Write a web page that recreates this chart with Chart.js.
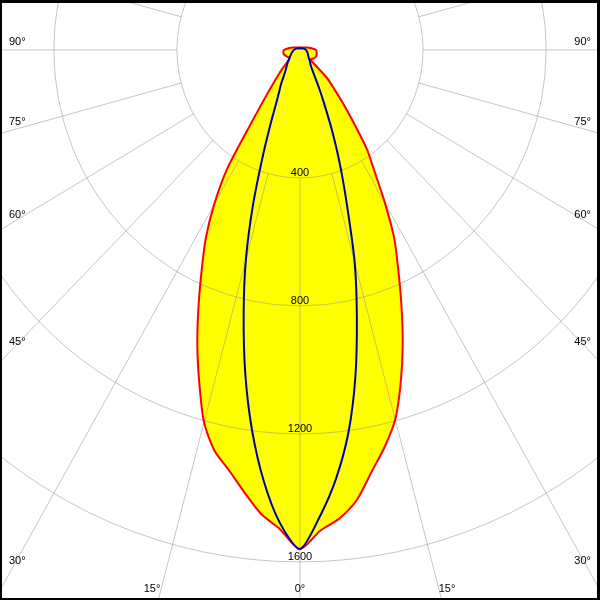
<!DOCTYPE html>
<html>
<head>
<meta charset="utf-8">
<title>Polar intensity diagram</title>
<script src="https://cdn.jsdelivr.net/npm/chart.js@4.4.1/dist/chart.umd.min.js"></script>
<style>
    body { margin: 0; background: #fff; }
    #wrap { position: relative; width: 600px; height: 600px; }
    #frame {
        position: absolute; left: 0; top: 0; width: 600px; height: 600px;
        box-sizing: border-box; border: solid #000;
        border-width: 3px 3px 2px 2px; pointer-events: none;
    }
</style>
</head>
<body>
<div id="wrap">
    <canvas id="polar" width="600" height="600"></canvas>
    <div id="frame"></div>
</div>
<script>
// Gamma angles (0 = straight down), degrees
const angles = [0, 2.5, 5, 7.5, 10, 12.5, 15, 17.5, 20, 22.5, 25, 27.5, 30, 32.5, 35, 37.5, 40, 42.5, 45, 47.5, 50,
    55, 60, 65, 70, 75, 80, 85, 90, 100, 110, 120, 130, 140, 150, 160, 170, 180];

// Luminous intensity, cd - C0/C180 plane (red), left and right half
const redLeft = [1560, 1499, 1455, 1393, 1333, 1283, 1205, 1089, 976, 861, 755, 663, 558, 440, 265, 180, 130, 100, 75, 55, 45,
    43, 45, 48, 51, 54, 55, 54, 52, 35, 22, 15, 12, 10, 9, 8, 8, 8];
const redRight = [1560, 1504, 1470, 1418, 1339, 1271, 1196, 1089, 976, 861, 755, 663, 552, 451, 380, 285, 215, 162, 123, 50, 46,
    49, 52, 55, 56, 56, 55, 54, 52, 35, 22, 15, 12, 10, 9, 8, 8, 8];

// C90/C270 plane (blue)
const blueLeft = [1560, 1481, 1352, 1197, 1025, 846, 680, 508, 354, 249, 182, 146, 123, 100, 85, 75, 68, 62, 57, 52, 48,
    41, 36, 32, 29, 26, 24, 22, 20, 16, 12, 9, 7, 6, 5, 5, 5, 5];
const blueRight = [1560, 1461, 1345, 1206, 1037, 854, 686, 507, 378, 271, 187, 135, 96, 75, 63, 56, 51, 47, 44, 40, 37,
    33, 30, 28, 26, 24, 22, 21, 20, 16, 12, 9, 7, 6, 5, 5, 5, 5];

// Grid
const ringValues = [400, 800, 1200, 1600];
const spokeAngles = [0, 15, 30, 45, 60, 75, 90, 105, 120, 135, 150, 165, 180, 195, 210, 225, 240, 255, 270, 285, 300, 315, 330, 345];
const sideLabels = ['90°', '75°', '60°', '45°', '30°'];
const bottomLabels = ['15°', '0°', '15°'];

const RED = '#ff0000';
const BLUE = '#0000aa';
const YELLOW = '#ffff00';
const GRID = 'rgba(150, 150, 150, 0.55)';
const FONT = '11px "Liberation Sans", Arial, sans-serif';

// polar -> cartesian, left half gets negative x
function toPoint(angle, value, side) {
    const rad = angle * Math.PI / 180;
    return { x: side * value * Math.sin(rad), y: -value * Math.cos(rad) };
}

function buildCurve(left, right) {
    const pts = [];
    for (let i = angles.length - 1; i >= 0; i--) pts.push(toPoint(angles[i], left[i], -1));
    for (let i = 1; i < angles.length; i++) pts.push(toPoint(angles[i], right[i], 1));
    pts.push(pts[0]);
    return pts;
}

const redCurve = buildCurve(redLeft, redRight);
const blueCurve = buildCurve(blueLeft, blueRight);

const polarGrid = {
    id: 'polarGrid',
    // grid goes on top of the yellow fill but under the curves
    afterDatasetDraw(chart, args) {
        if (args.index !== 2) return;
        const ctx = chart.ctx;
        const xs = chart.scales.x, ys = chart.scales.y;
        const cx = xs.getPixelForValue(0), cy = ys.getPixelForValue(0);
        ctx.save();
        ctx.strokeStyle = GRID;
        ctx.lineWidth = 1;
        ringValues.forEach(r => {
            const rx = xs.getPixelForValue(r) - cx;
            const ry = cy - ys.getPixelForValue(r);
            ctx.beginPath();
            ctx.ellipse(cx, cy, rx, ry, 0, 0, Math.PI * 2);
            ctx.stroke();
        });
        spokeAngles.forEach(a => {
            const p0 = toPoint(a, ringValues[0], 1);
            const p1 = toPoint(a, 5000, 1);
            ctx.beginPath();
            ctx.moveTo(xs.getPixelForValue(p0.x), ys.getPixelForValue(p0.y));
            ctx.lineTo(xs.getPixelForValue(p1.x), ys.getPixelForValue(p1.y));
            ctx.stroke();
        });
        ctx.restore();
    },
    afterDraw(chart) {
        const ctx = chart.ctx;
        const xs = chart.scales.x, ys = chart.scales.y;
        const cx = xs.getPixelForValue(0);
        ctx.save();
        ctx.font = FONT;
        ctx.fillStyle = '#000';
        ctx.textBaseline = 'middle';
        ctx.textAlign = 'center';
        ringValues.forEach(r => {
            ctx.fillText(String(r), cx, ys.getPixelForValue(-r) - 5);
        });
        const sideY = [42, 122, 215, 342, 561];
        sideLabels.forEach((t, i) => {
            ctx.textAlign = 'left';
            ctx.fillText(t, 9, sideY[i]);
            ctx.textAlign = 'right';
            ctx.fillText(t, 591, sideY[i]);
        });
        ctx.textAlign = 'center';
        const bottomX = [152, 300, 447];
        bottomLabels.forEach((t, i) => ctx.fillText(t, bottomX[i], 589));
        ctx.restore();
    }
};

const chart = new Chart(document.getElementById('polar').getContext('2d'), {
    type: 'scatter',
    data: {
        datasets: [
            {
                label: 'C90 - C270',
                data: blueCurve,
                showLine: true,
                borderColor: BLUE,
                borderWidth: 2,
                pointRadius: 0,
                tension: 0.25,
                fill: false,
                order: 0
            },
            {
                label: 'C0 - C180',
                data: redCurve,
                showLine: true,
                borderColor: RED,
                borderWidth: 2,
                pointRadius: 0,
                tension: 0.25,
                fill: false,
                order: 1
            },
            {
                label: 'fill',
                data: redCurve,
                showLine: true,
                borderWidth: 0,
                borderColor: 'rgba(0,0,0,0)',
                backgroundColor: YELLOW,
                pointRadius: 0,
                tension: 0.25,
                fill: 'shape',
                order: 2
            }
        ]
    },
    options: {
        responsive: false,
        animation: false,
        layout: { padding: 0 },
        plugins: {
            legend: { display: false },
            tooltip: { enabled: false }
        },
        scales: {
            x: { type: 'linear', display: false, min: -975, max: 975 },
            y: { type: 'linear', display: false, min: -1719, max: 156 }
        }
    },
    plugins: [polarGrid]
});
</script>
</body>
</html>
